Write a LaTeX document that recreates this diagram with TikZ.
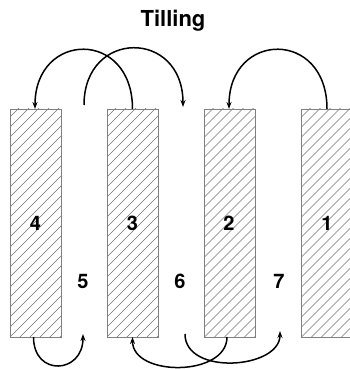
\documentclass[tikz,border=0pt]{standalone}
\usepackage{fontspec}
\setmainfont{TeX Gyre Heros}
\usetikzlibrary{arrows.meta}
\begin{document}
\begin{tikzpicture}[x=1pt,y=1pt,
  slab/.style={draw=black!50, line width=0.8pt, minimum width=51pt, minimum height=228pt,
    inner sep=0pt, outer sep=0pt,
    path picture={\foreach \k in {-300,-290,...,300}
      \draw[black!55, line width=0.45pt] ([xshift=\k pt]path picture bounding box.south west) -- ++(300,300);}},
  num/.style={font=\bfseries\fontsize{20}{24}\selectfont, anchor=base, inner sep=0pt},
  arr/.style={line width=1.5pt, -{Stealth[length=7pt,width=5pt]}},
  plain/.style={line width=1.5pt}]
\useasboundingbox (0,0) rectangle (350,369);
\node[font=\bfseries\fontsize{22}{26}\selectfont, anchor=base, inner sep=0pt] (title) at (173,342.5) {Tilling};
\node[slab] (r4) at (35.5,146) {};
\node[slab] (r3) at (132.5,146) {};
\node[slab] (r2) at (230,146) {};
\node[slab] (r1) at (327,146) {};
\node[num] (n4) at (35.5,138.3) {4};
\node[num] (n3) at (132.5,138.3) {3};
\node[num] (n2) at (229,138.3) {2};
\node[num] (n1) at (327,138.3) {1};
\node[num] (n5) at (83,80) {5};
\node[num] (n6) at (180,80) {6};
\node[num] (n7) at (279,80) {7};
\coordinate (b1) at (84,264);
\coordinate (b2) at (183,262);
\coordinate (d2) at (83,35);
\coordinate (f1) at (185,35);
\coordinate (f2) at (280,38);
% top arcs
\draw[arr] (r3.north) .. controls +(0,80) and +(0,78) .. ([xshift=-0.5pt]r4.north);
\draw[arr] (b1) .. controls +(0,76) and +(0,78) .. (b2);
\draw[arr] (r1.north) .. controls +(0,80) and +(0,78) .. ([xshift=-1pt]r2.north);
% bottom arcs
\draw[arr] ([xshift=-2pt]r4.south) .. controls +(0,-40) and +(0,-40) .. (d2);
\draw[arr] ([xshift=-3pt]r2.south) .. controls +(0,-40) and +(0,-40) .. (r3.south);
\draw[arr] (f1) .. controls +(0,-42) and +(0,-38) .. (f2);
\end{tikzpicture}
\end{document}
